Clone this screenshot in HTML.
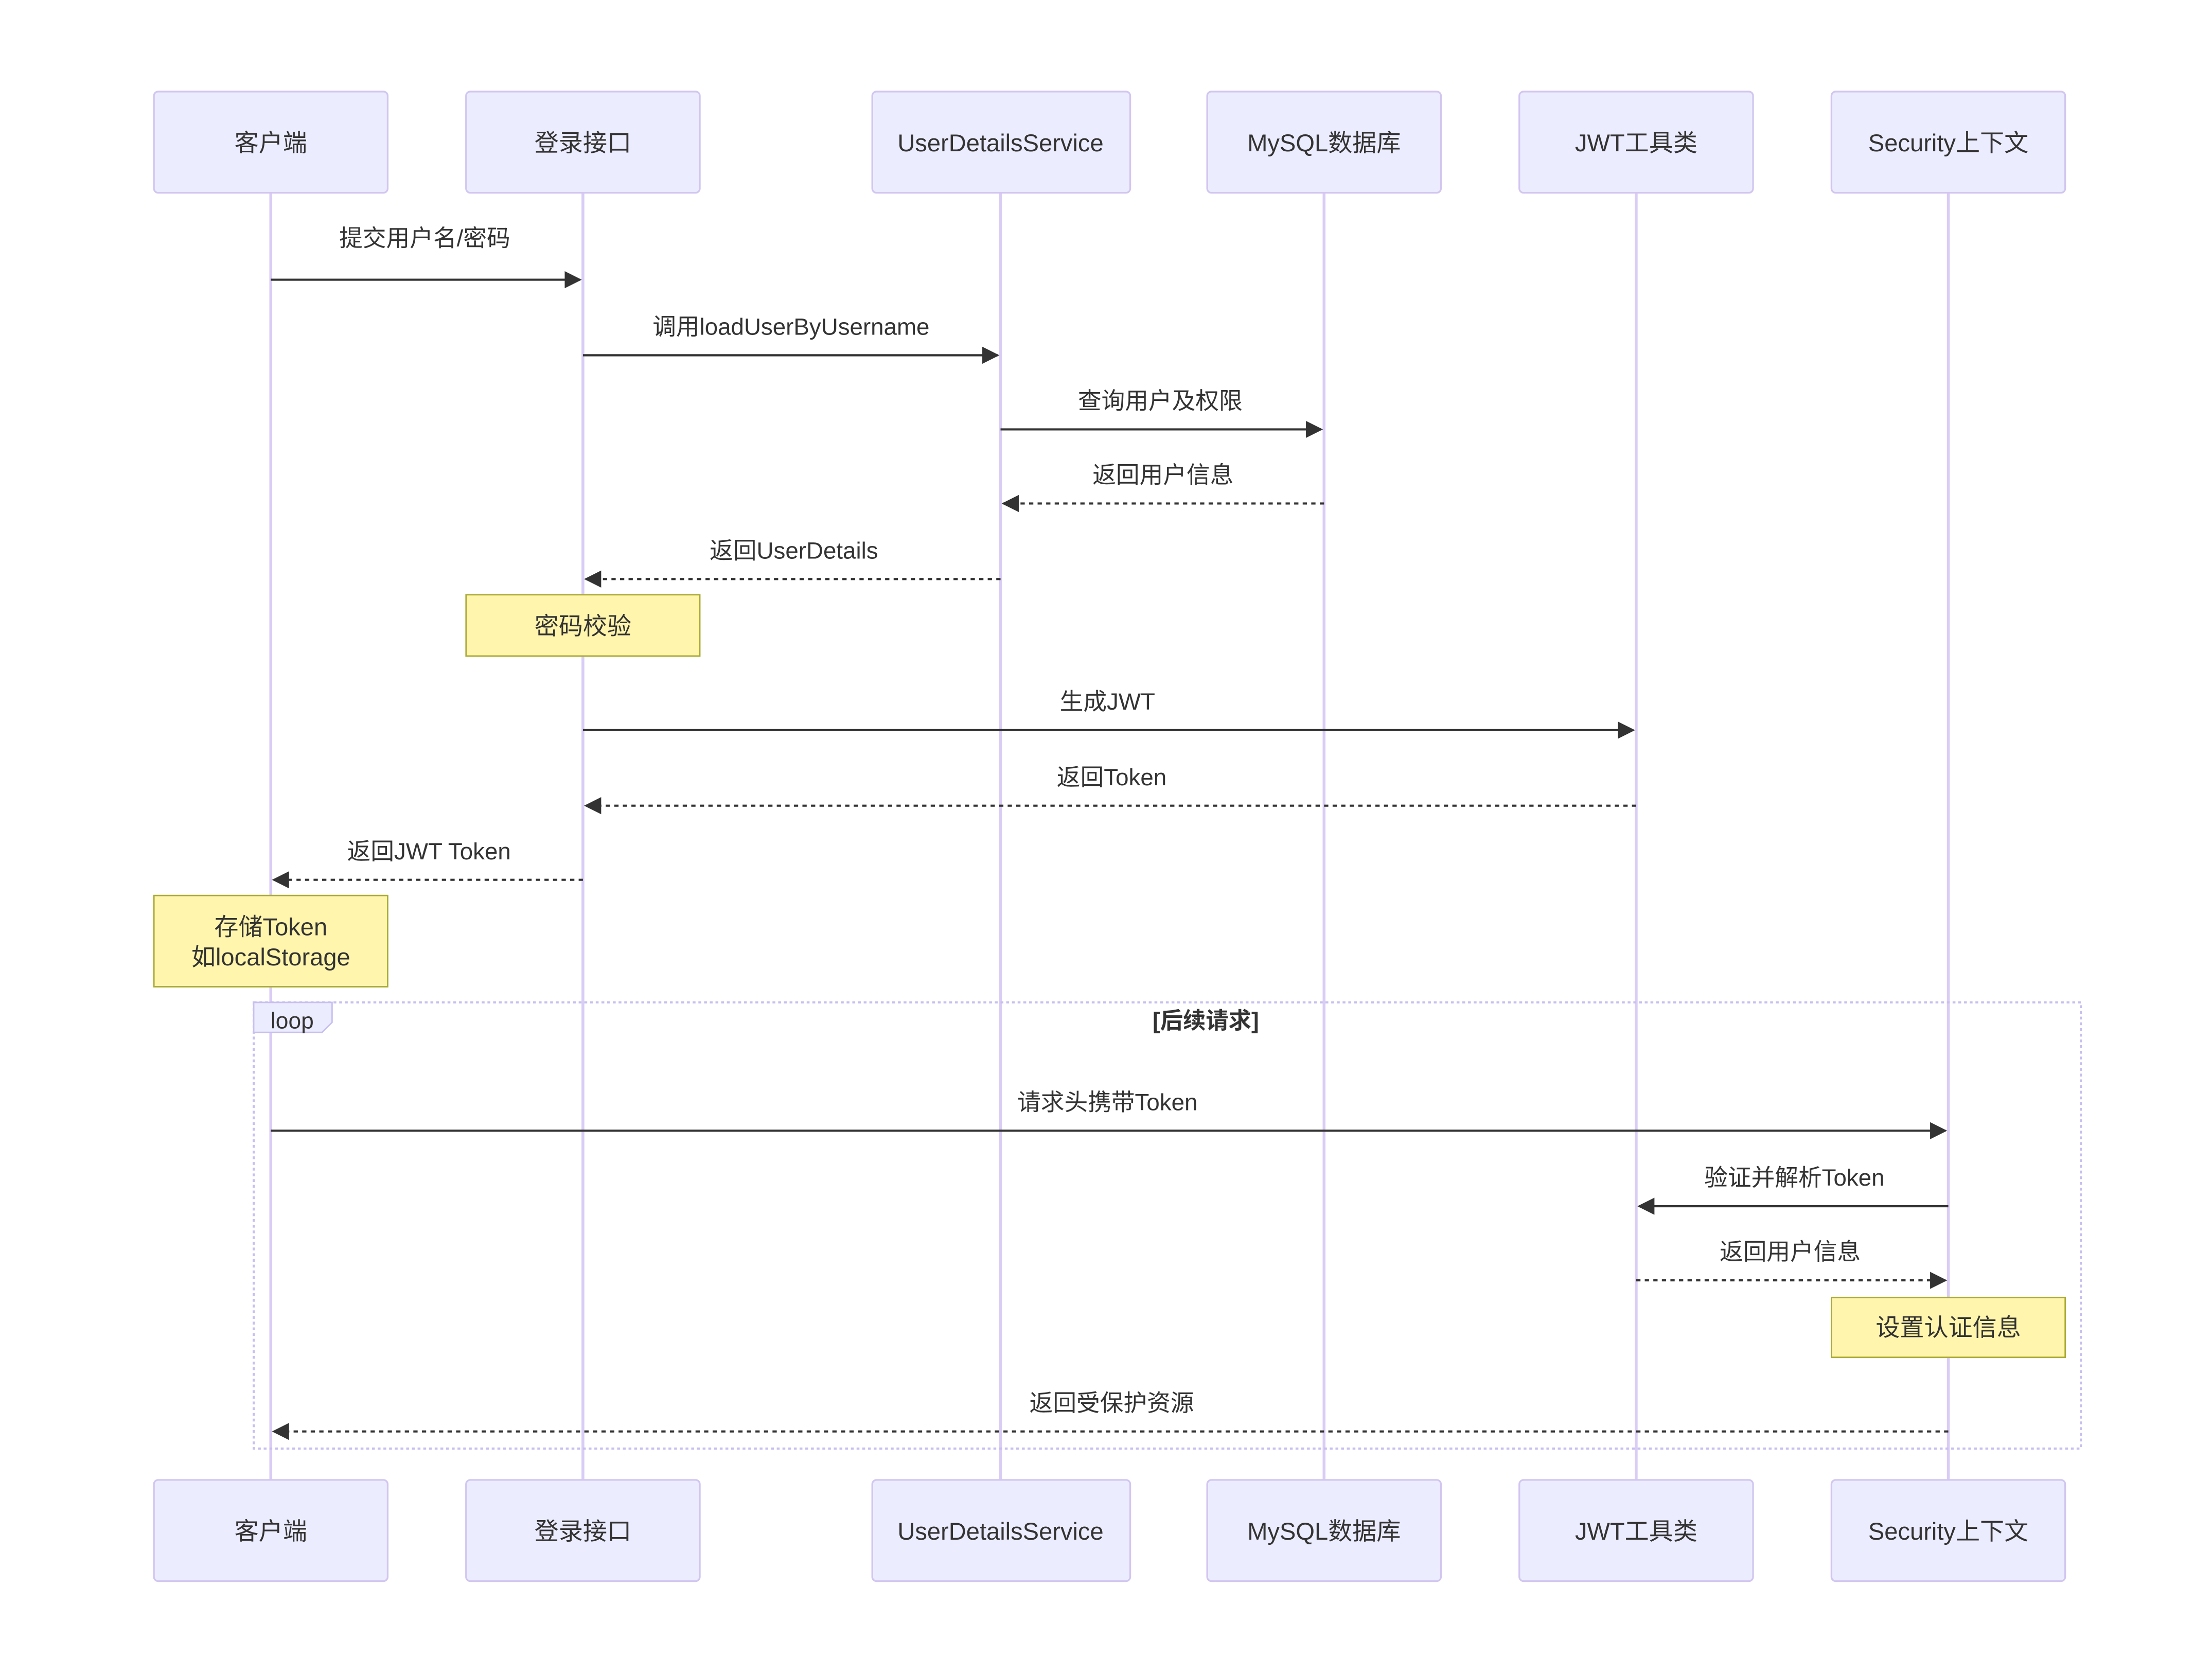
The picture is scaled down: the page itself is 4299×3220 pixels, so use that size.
<!DOCTYPE html>
<html><head><meta charset="utf-8"><style>
html,body{margin:0;padding:0;background:#fff;}
svg{display:block;}
text{font-family:"Liberation Sans","Noto Sans CJK SC",sans-serif;fill:#333;}
</style></head><body>
<svg width="4299" height="3220" viewBox="0 0 1552 1162" xmlns="http://www.w3.org/2000/svg">
<defs>
<marker id="a" viewBox="0 0 10 10" refX="9" refY="5" markerWidth="12" markerHeight="12" markerUnits="userSpaceOnUse" orient="auto"><path d="M0,0 L10,5 L0,10 z" fill="#333"/></marker>
</defs>
<rect width="1552" height="1162" fill="#fff"/>
<g stroke="#d9ccf5" stroke-width="2">
<line x1="190" y1="135" x2="190" y2="1038"/>
<line x1="409" y1="135" x2="409" y2="1038"/>
<line x1="702" y1="135" x2="702" y2="1038"/>
<line x1="929" y1="135" x2="929" y2="1038"/>
<line x1="1148" y1="135" x2="1148" y2="1038"/>
<line x1="1367" y1="135" x2="1367" y2="1038"/>
</g>
<g fill="#ECECFF" stroke="#d2c6f0" stroke-width="1.2">
<rect x="108" y="64" width="164" height="71" rx="3"/>
<rect x="327" y="64" width="164" height="71" rx="3"/>
<rect x="612" y="64" width="181" height="71" rx="3"/>
<rect x="847" y="64" width="164" height="71" rx="3"/>
<rect x="1066" y="64" width="164" height="71" rx="3"/>
<rect x="1285" y="64" width="164" height="71" rx="3"/>
<rect x="108" y="1038" width="164" height="71" rx="3"/>
<rect x="327" y="1038" width="164" height="71" rx="3"/>
<rect x="612" y="1038" width="181" height="71" rx="3"/>
<rect x="847" y="1038" width="164" height="71" rx="3"/>
<rect x="1066" y="1038" width="164" height="71" rx="3"/>
<rect x="1285" y="1038" width="164" height="71" rx="3"/>
</g>
<g font-size="17" text-anchor="middle" dominant-baseline="central">
<text x="190" y="100">客户端</text><text x="409" y="100">登录接口</text><text x="702" y="100">UserDetailsService</text><text x="929" y="100">MySQL数据库</text><text x="1148" y="100">JWT工具类</text><text x="1367" y="100">Security上下文</text>
<text x="190" y="1074">客户端</text><text x="409" y="1074">登录接口</text><text x="702" y="1074">UserDetailsService</text><text x="929" y="1074">MySQL数据库</text><text x="1148" y="1074">JWT工具类</text><text x="1367" y="1074">Security上下文</text>
</g>
<!-- loop -->
<rect x="178" y="703" width="1282" height="313" fill="none" stroke="#c8bff0" stroke-width="1.5" stroke-dasharray="2,2"/>
<path d="M178,703 H233 V717 L226,724 H178 Z" fill="#ECECFF" stroke="#c8bff0" stroke-width="1"/>
<text x="205" y="716" font-size="16" text-anchor="middle" dominant-baseline="central">loop</text>
<text x="846" y="716" font-size="16" font-weight="bold" text-anchor="middle" dominant-baseline="central">[后续请求]</text>
<!-- notes -->
<g fill="#fff5ad" stroke="#aaaa33" stroke-width="1">
<rect x="327" y="417" width="164" height="43"/>
<rect x="108" y="628" width="164" height="64"/>
<rect x="1285" y="910" width="164" height="42"/>
</g>
<g font-size="17" text-anchor="middle" dominant-baseline="central">
<text x="409" y="439">密码校验</text>
<text x="190" y="650">存储Token</text><text x="190" y="671">如localStorage</text>
<text x="1367" y="931">设置认证信息</text>
</g>
<!-- messages -->
<g stroke="#333" stroke-width="1.5" marker-end="url(#a)">
<line x1="190" y1="196" x2="407" y2="196"/>
<line x1="409" y1="249" x2="700" y2="249"/>
<line x1="702" y1="301" x2="927" y2="301"/>
<line x1="929" y1="353" x2="704" y2="353" stroke-dasharray="3,3"/>
<line x1="702" y1="406" x2="411" y2="406" stroke-dasharray="3,3"/>
<line x1="409" y1="512" x2="1146" y2="512"/>
<line x1="1148" y1="565" x2="411" y2="565" stroke-dasharray="3,3"/>
<line x1="409" y1="617" x2="192" y2="617" stroke-dasharray="3,3"/>
<line x1="190" y1="793" x2="1365" y2="793"/>
<line x1="1367" y1="846" x2="1150" y2="846"/>
<line x1="1148" y1="898" x2="1365" y2="898" stroke-dasharray="3,3"/>
<line x1="1367" y1="1004" x2="192" y2="1004" stroke-dasharray="3,3"/>
</g>
<g font-size="16.5" text-anchor="middle" dominant-baseline="central">
<text x="298" y="167">提交用户名/密码</text>
<text x="555" y="229">调用loadUserByUsername</text>
<text x="814" y="281">查询用户及权限</text>
<text x="816" y="333">返回用户信息</text>
<text x="557" y="386">返回UserDetails</text>
<text x="777" y="492">生成JWT</text>
<text x="780" y="545">返回Token</text>
<text x="301" y="597">返回JWT Token</text>
<text x="777" y="773">请求头携带Token</text>
<text x="1259" y="826">验证并解析Token</text>
<text x="1256" y="878">返回用户信息</text>
<text x="780" y="984">返回受保护资源</text>
</g>
</svg>
</body></html>
